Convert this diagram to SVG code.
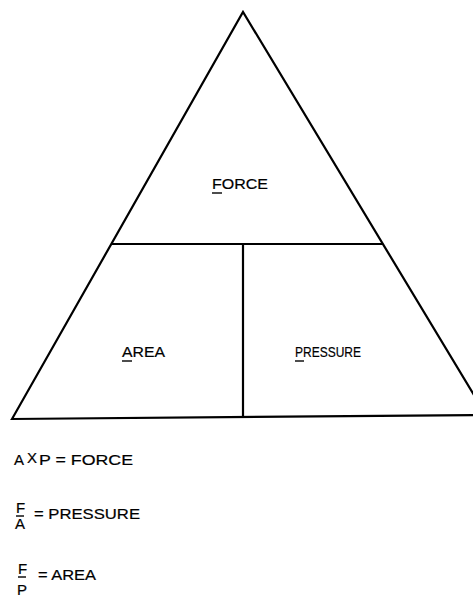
<svg xmlns="http://www.w3.org/2000/svg" width="473" height="607" viewBox="0 0 473 607">
<style>
.ln{stroke:#000;stroke-width:2.2;fill:none;stroke-linecap:round;stroke-linejoin:miter}
.t{font-family:"Liberation Sans",Arial,sans-serif;font-size:15px;fill:#000;stroke:#000;stroke-width:0.2}
.u{stroke:#000;stroke-width:1.4}
</style>
<rect width="473" height="607" fill="#fff"/>
<g id="connectors">
<path class="ln" d="M12,419 L243,12 L486,415 Z"/>
<line class="ln" x1="112" y1="244" x2="382" y2="244"/>
<line class="ln" x1="243" y1="244" x2="243" y2="417"/>
</g>
<g id="force">
<text class="t" x="212" y="189" textLength="56" lengthAdjust="spacingAndGlyphs">FORCE</text>
<line class="u" x1="212" y1="193" x2="222" y2="193"/>
</g>
<g id="area">
<text class="t" x="122" y="357" textLength="43" lengthAdjust="spacingAndGlyphs">AREA</text>
<line class="u" x1="122" y1="361" x2="132" y2="361"/>
</g>
<g id="pressure">
<text class="t" x="295" y="357" textLength="66" lengthAdjust="spacingAndGlyphs">PRESSURE</text>
<line class="u" x1="295" y1="361" x2="304" y2="361"/>
</g>
<g id="formula1">
<text class="t" x="14" y="465" font-size="14">A</text>
<text class="t" x="27" y="463" font-size="10">X</text>
<text class="t" x="39" y="465" font-size="14" textLength="94" lengthAdjust="spacingAndGlyphs">P = FORCE</text>
</g>
<g id="formula2">
<text class="t" x="16" y="513" font-size="14">F</text>
<line class="u" x1="16" y1="516" x2="24" y2="516"/>
<text class="t" x="15" y="529" font-size="14">A</text>
<text class="t" x="34" y="519" font-size="14" textLength="106" lengthAdjust="spacingAndGlyphs">= PRESSURE</text>
</g>
<g id="formula3">
<text class="t" x="18" y="574" font-size="14">F</text>
<line class="u" x1="18" y1="577" x2="26" y2="577"/>
<text class="t" x="17" y="595" font-size="14">P</text>
<text class="t" x="38" y="580" font-size="14" textLength="58" lengthAdjust="spacingAndGlyphs">= AREA</text>
</g>
</svg>
